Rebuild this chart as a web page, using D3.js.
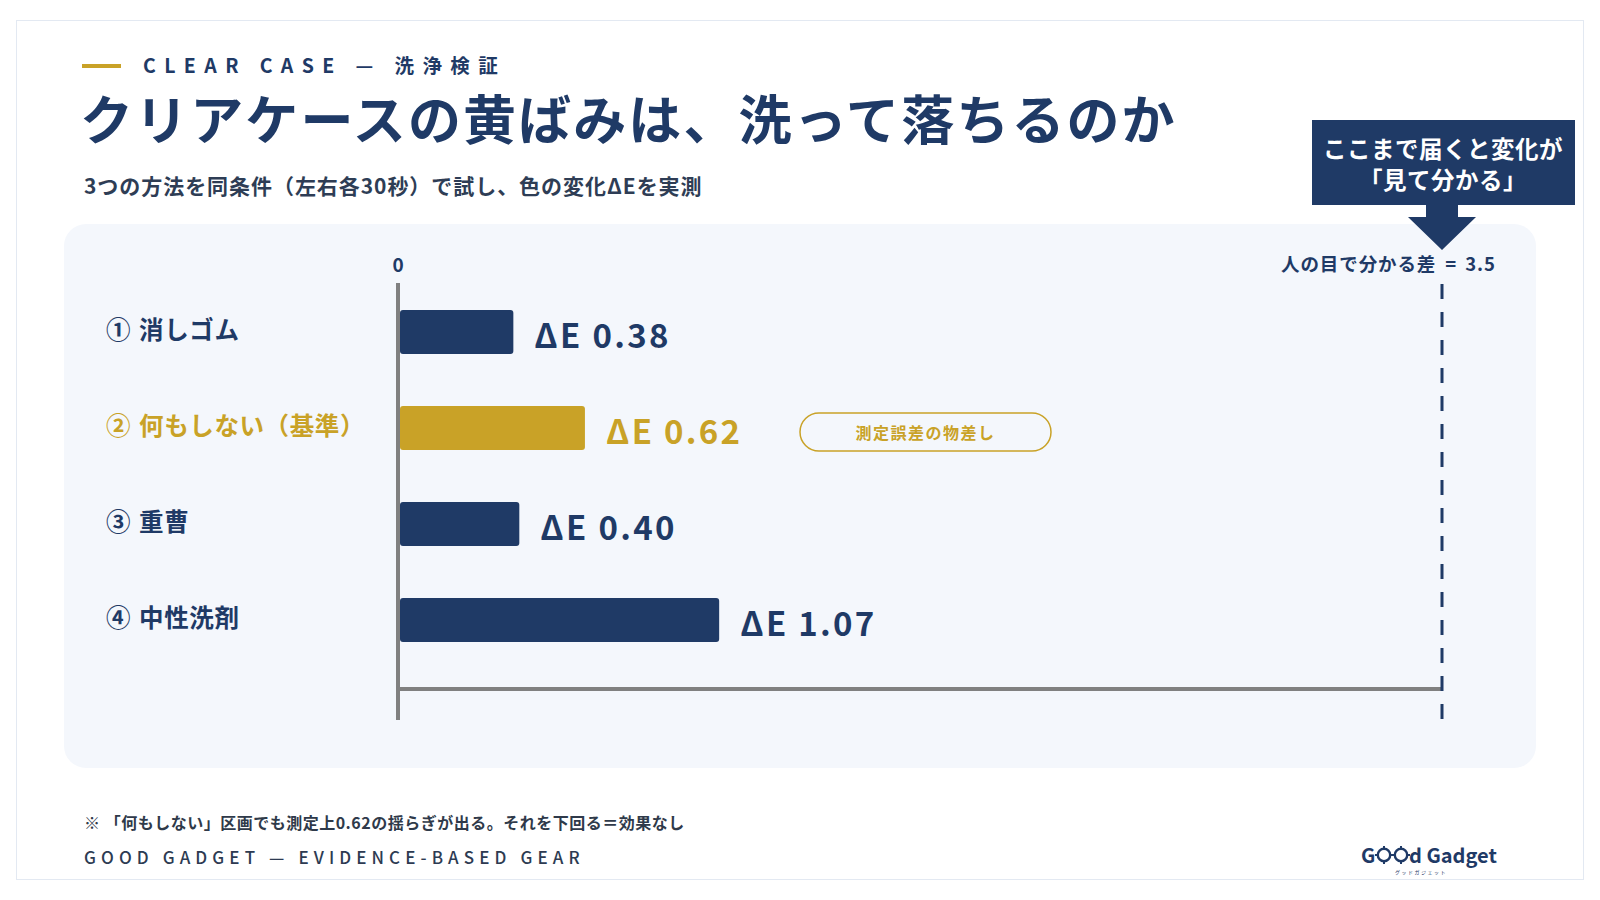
<!DOCTYPE html>
<html>
<head>
<meta charset="utf-8">
<script src="https://d3js.org/d3.v7.min.js"></script>
<style>
  body { margin: 0; background: #ffffff; }
  text { font-family: "Noto Sans CJK JP", "Noto Sans", sans-serif; }
</style>
</head>
<body>
<div id="cont"></div>
<script>
  // data
  var categories = ["① 消しゴム", "② 何もしない（基準）", "③ 重曹", "④ 中性洗剤"];
  var values = [0.38, 0.62, 0.40, 1.07];
  var baselineIndex = 1;
  var threshold = 3.5;
  var thresholdText = "人の目で分かる差";
  var xTicks = [0];

  var navy = "#1f3a66";
  var gold = "#c9a227";
  var grey = "#808080";

  var svg = d3.select("#cont").append("svg")
      .attr("width", 1600)
      .attr("height", 900);

  // card + panel
  svg.append("rect").attr("x", 16.5).attr("y", 20.5).attr("width", 1567).attr("height", 859)
      .attr("fill", "#fff").attr("stroke", "#e3e9f2").attr("stroke-width", 1);
  svg.append("rect").attr("x", 64).attr("y", 224).attr("width", 1472).attr("height", 544)
      .attr("rx", 22).attr("fill", "#f4f7fc");

  // header
  svg.append("line").attr("x1", 82).attr("x2", 121).attr("y1", 66).attr("y2", 66)
      .attr("stroke", gold).attr("stroke-width", 4);
  svg.append("text").attr("x", 143).attr("y", 64).attr("dominant-baseline", "central")
      .attr("font-size", 19.5).attr("font-weight", 700).attr("letter-spacing", 8.4)
      .attr("fill", navy).text("CLEAR CASE — 洗浄検証");
  svg.append("text").attr("x", 80).attr("y", 117).attr("dominant-baseline", "central")
      .attr("font-size", 53).attr("font-weight", 700).attr("letter-spacing", 2.1)
      .attr("fill", navy).text("クリアケースの黄ばみは、洗って落ちるのか");
  svg.append("text").attr("x", 84).attr("y", 185).attr("dominant-baseline", "central")
      .attr("font-size", 21).attr("font-weight", 700).attr("letter-spacing", 0.95)
      .attr("fill", "#2e3d55").text("3つの方法を同条件（左右各30秒）で試し、色の変化ΔEを実測");

  // scales
  var x = d3.scaleLinear().domain([0, threshold]).range([398, 1442]);
  var y = d3.scalePoint().domain(categories).range([332, 620]);
  var barH = 44;

  // axes lines
  svg.append("line").attr("x1", x(0)).attr("x2", x(0)).attr("y1", 283).attr("y2", 720)
      .attr("stroke", grey).attr("stroke-width", 4);
  svg.append("line").attr("x1", x(0) - 2).attr("x2", x(threshold)).attr("y1", 689).attr("y2", 689)
      .attr("stroke", grey).attr("stroke-width", 4);
  svg.append("line").attr("x1", x(threshold)).attr("x2", x(threshold)).attr("y1", 284).attr("y2", 720)
      .attr("stroke", navy).attr("stroke-width", 3).attr("stroke-dasharray", "15,13");

  svg.selectAll(".tick0").data(xTicks).enter().append("text")
      .attr("x", function (d) { return x(d); }).attr("y", 263)
      .attr("text-anchor", "middle").attr("dominant-baseline", "central")
      .attr("font-size", 19).attr("font-weight", 700).attr("fill", navy)
      .text(function (d) { return d; });
  var thr = svg.append("text").attr("x", 1496).attr("y", 263).attr("text-anchor", "end")
      .attr("dominant-baseline", "central").attr("font-size", 18.5).attr("font-weight", 700)
      .attr("fill", navy);
  thr.append("tspan").attr("letter-spacing", 0.9).text(thresholdText);
  thr.append("tspan").attr("dx", 9).text("=");
  thr.append("tspan").attr("dx", 9).attr("letter-spacing", 1).text(threshold);

  // bars
  var rows = svg.selectAll(".row").data(categories).enter().append("g").attr("class", "row");
  rows.append("rect")
      .attr("x", x(0) + 2)
      .attr("y", function (d) { return y(d) - barH / 2; })
      .attr("width", function (d, i) { return x(values[i]) - x(0); })
      .attr("height", barH)
      .attr("rx", 3)
      .attr("fill", function (d, i) { return i === baselineIndex ? gold : navy; });
  rows.append("text")
      .attr("x", 106)
      .attr("y", function (d) { return y(d) - 4; })
      .attr("dominant-baseline", "central")
      .attr("font-size", 24.5).attr("font-weight", 700).attr("letter-spacing", 0.6)
      .attr("fill", function (d, i) { return i === baselineIndex ? gold : navy; })
      .each(function (d) {
        var parts = d.split(" ");
        var t = d3.select(this);
        t.append("tspan").text(parts[0]);
        t.append("tspan").attr("dx", 8).text(parts[1]);
      });
  rows.append("text")
      .attr("class", "val")
      .attr("x", function (d, i) { return x(values[i]) + 23; })
      .attr("y", function (d) { return y(d) + 2; })
      .attr("dominant-baseline", "central")
      .attr("font-size", 33).attr("font-weight", 700).attr("letter-spacing", 2.3)
      .attr("fill", function (d, i) { return i === baselineIndex ? gold : navy; })
      .text(function (d, i) { return "ΔE " + values[i].toFixed(2); });

  // pill next to baseline row
  var py = y(categories[baselineIndex]) + 4;
  svg.append("rect").attr("x", 800).attr("y", py - 19).attr("width", 251).attr("height", 38)
      .attr("rx", 19).attr("fill", "none").attr("stroke", gold).attr("stroke-width", 1.5);
  svg.append("text").attr("x", 925.5).attr("y", py).attr("text-anchor", "middle")
      .attr("dominant-baseline", "central").attr("font-size", 16).attr("font-weight", 700)
      .attr("letter-spacing", 1.5).attr("fill", gold).text("測定誤差の物差し");

  // callout
  var cx = x(threshold);
  svg.append("rect").attr("x", 1312).attr("y", 120).attr("width", 263).attr("height", 85)
      .attr("fill", navy);
  svg.append("path")
      .attr("d", "M" + (cx - 16) + ",204 L" + (cx + 16) + ",204 L" + (cx + 16) + ",217 L" + (cx + 34) + ",217 L" +
        cx + ",250 L" + (cx - 34) + ",217 L" + (cx - 16) + ",217 Z")
      .attr("fill", navy);
  svg.append("text").attr("x", 1443).attr("y", 148).attr("text-anchor", "middle")
      .attr("dominant-baseline", "central").attr("font-size", 23.5).attr("font-weight", 700)
      .attr("letter-spacing", 0.5).attr("fill", "#fff").text("ここまで届くと変化が");
  svg.append("text").attr("x", 1443).attr("y", 179).attr("text-anchor", "middle")
      .attr("dominant-baseline", "central").attr("font-size", 23.5).attr("font-weight", 700)
      .attr("letter-spacing", 0.5).attr("fill", "#fff").text("「見て分かる」");

  // footer
  svg.append("text").attr("x", 84).attr("y", 822).attr("dominant-baseline", "central")
      .attr("font-size", 16).attr("font-weight", 700).attr("letter-spacing", 0.5).attr("fill", "#2f3a4a")
      .text("※ 「何もしない」区画でも測定上0.62の揺らぎが出る。それを下回る＝効果なし");
  svg.append("text").attr("x", 84).attr("y", 856).attr("dominant-baseline", "central")
      .attr("font-size", 17).attr("font-weight", 500).attr("letter-spacing", 5.1)
      .attr("fill", "#2d3b52").text("GOOD GADGET — EVIDENCE-BASED GEAR");

  // logo
  var logo = svg.append("g").attr("fill", navy);
  logo.append("text").attr("x", 1361).attr("y", 854).attr("dominant-baseline", "central")
      .attr("font-size", 20).attr("font-weight", 700).text("G");
  [1384, 1401].forEach(function (c) {
    logo.append("circle").attr("cx", c).attr("cy", 855).attr("r", 6.2)
        .attr("fill", "none").attr("stroke", navy).attr("stroke-width", 2.4);
    [[0, -9, 0, -5], [0, 5, 0, 9], [-9, 0, -5, 0], [5, 0, 9, 0]].forEach(function (t) {
      logo.append("line").attr("x1", c + t[0]).attr("y1", 855 + t[1]).attr("x2", c + t[2]).attr("y2", 855 + t[3])
          .attr("stroke", navy).attr("stroke-width", 2);
    });
  });
  logo.append("text").attr("x", 1409).attr("y", 854).attr("dominant-baseline", "central")
      .attr("font-size", 20).attr("font-weight", 700).text("d Gadget");
  logo.append("text").attr("x", 1421).attr("y", 871).attr("text-anchor", "middle")
      .attr("dominant-baseline", "central").attr("font-size", 5).attr("letter-spacing", 1.5)
      .text("グッドガジェット");
</script>
</body>
</html>
